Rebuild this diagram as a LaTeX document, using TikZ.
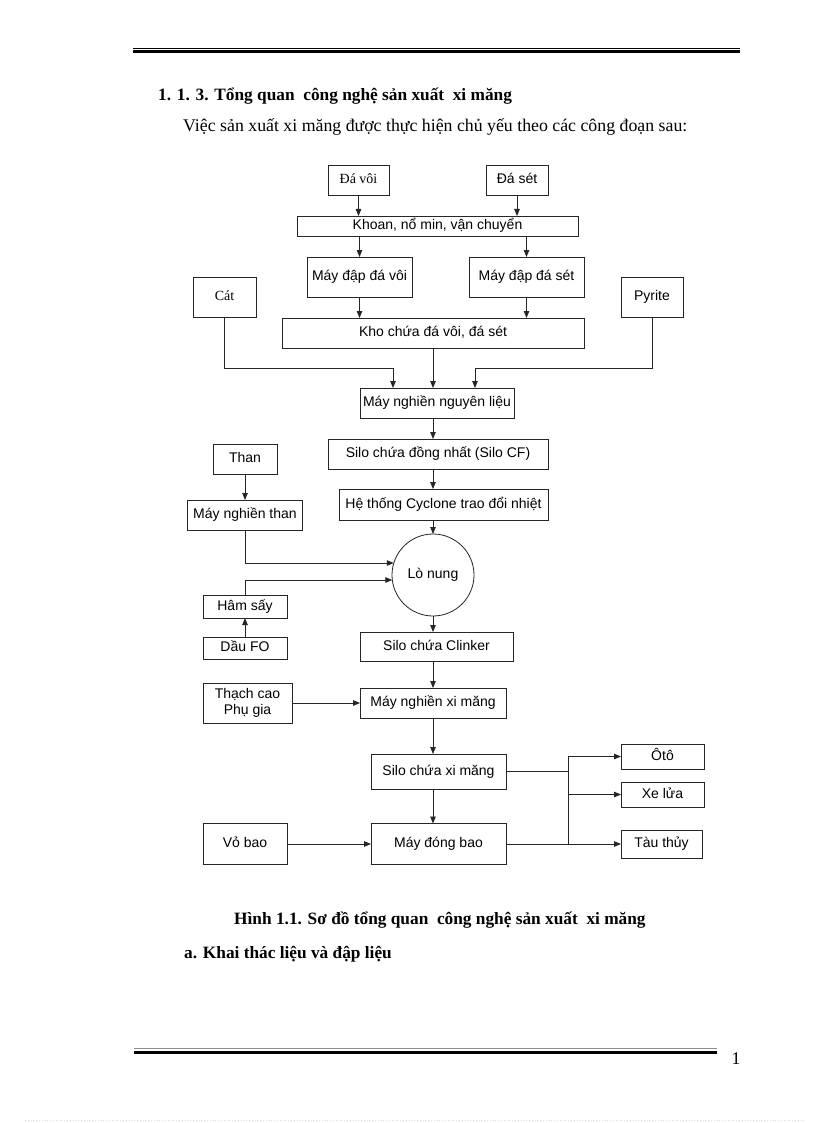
\documentclass[tikz,border=0pt]{standalone}
\usepackage{fontspec}
\setmainfont{Liberation Serif}
\newfontfamily\arialf{Liberation Sans}
\usetikzlibrary{arrows.meta,calc}
\definecolor{dotc}{RGB}{230,215,225}
\begin{document}
\begin{tikzpicture}[x=1pt,y=-1pt,
  bx/.style={draw=black!85, line width=0.8pt, inner sep=0pt, outer sep=0pt, text height=10pt, text depth=2.9pt, font=\arialf\fontsize{14}{16.5}\selectfont},
  sbx/.style={bx, font=\fontsize{14}{16.5}\selectfont},
  arr/.style={draw=black!85, line width=0.8pt, -{Triangle[length=7pt,width=5.5pt]}},
  ln/.style={draw=black!85, line width=0.8pt},
  txt/.style={inner sep=0pt, anchor=base west, font=\fontsize{17.8}{20}\selectfont},
  btxt/.style={txt, font=\fontsize{17.3}{20}\selectfont\bfseries}]
\useasboundingbox (0,0) rectangle (816,1123);
\fill[white] (0,0) rectangle (816,1123);

% page rules
\draw[line width=0.9pt] (133,48.5) -- (740,48.5);
\draw[line width=3.2pt] (133,51.8) -- (740,51.8);
\draw[line width=0.9pt, black!45] (134,1048.8) -- (717,1048.8);
\draw[line width=3.4pt] (134,1052.2) -- (717,1052.2);
\draw[dotted, line width=0.8pt, dotc] (25,1120.5) -- (805,1120.5);

% texts
\node[btxt] (title) at (158,101) {1. 1. 3. Tổng quan~ công nghệ sản xuất~ xi măng};
\node[txt] (intro) at (183,132) {Việc sản xuất xi măng được thực hiện chủ yếu theo các công đoạn sau:};
\node[btxt] (caption) at (234,924) {Hình 1.1. Sơ đồ tổng quan~ công nghệ sản xuất~ xi măng};
\node[btxt] (sect) at (184,958) {a. Khai thác liệu và đập liệu};
\node[txt, anchor=center] (pageno) at (736,1059) {1};

% boxes
\node[sbx, minimum width=61pt, minimum height=30pt] (davoi) at (358.5,180) {Đá vôi};
\node[bx, minimum width=62pt, minimum height=30pt] (daset) at (517,180) {Đá sét};
\node[bx, minimum width=281pt, minimum height=20pt] (khoan) at (437.5,226) {Khoan, nổ min, vận chuyển};
\node[bx, minimum width=105pt, minimum height=40pt] (mdvoi) at (359.5,277) {Máy đập đá vôi};
\node[bx, minimum width=115pt, minimum height=40pt] (mdset) at (526.5,277) {Máy đập đá sét};
\node[sbx, minimum width=63pt, minimum height=40pt] (cat) at (224.5,297) {Cát};
\node[bx, minimum width=62pt, minimum height=40pt] (pyrite) at (652,297) {Pyrite};
\node[bx, minimum width=302pt, minimum height=30pt] (kho) at (433,333) {Kho chứa đá vôi, đá sét};
\node[bx, minimum width=154pt, minimum height=30pt] (mnnl) at (437,403) {Máy nghiền nguyên liệu};
\node[bx, minimum width=220pt, minimum height=30pt] (silocf) at (438,454) {Silo chứa đồng nhất (Silo CF)};
\node[bx, minimum width=209pt, minimum height=31pt] (cyclone) at (443.5,504.5) {Hệ thống Cyclone trao đổi nhiệt};
\node[bx, minimum width=64pt, minimum height=30pt] (than) at (245,459) {Than};
\node[bx, minimum width=115pt, minimum height=30pt] (mnthan) at (245,515) {Máy nghiền than};
\node[bx, circle, minimum size=82pt] (lonung) at (433,575) {Lò nung};
\node[bx, minimum width=84pt, minimum height=23pt] (hamsay) at (245,606.5) {Hâm sấy};
\node[bx, minimum width=84pt, minimum height=22pt] (daufo) at (245,648) {Dầu FO};
\node[bx, minimum width=153pt, minimum height=29pt] (clinker) at (436.5,646.5) {Silo chứa Clinker};
\node[bx, align=center, text height=, text depth=, minimum width=89pt, minimum height=40pt] (thachcao) at (247.5,703) {Thạch cao\\Phụ gia};
\node[bx, minimum width=146pt, minimum height=30pt] (mnxm) at (433,703) {Máy nghiền xi măng};
\node[bx, minimum width=135pt, minimum height=35pt] (siloxm) at (438.5,771.5) {Silo chứa xi măng};
\node[bx, minimum width=135pt, minimum height=41pt] (mdb) at (438.5,844) {Máy đóng bao};
\node[bx, minimum width=84pt, minimum height=41pt] (vobao) at (245,844) {Vỏ bao};
\node[bx, minimum width=83pt, minimum height=25pt] (oto) at (662.5,756.5) {Ôtô};
\node[bx, minimum width=83pt, minimum height=25pt] (xelua) at (662.5,794.5) {Xe lửa};
\node[bx, minimum width=81pt, minimum height=28pt] (tauthuy) at (661.5,844) {Tàu thủy};

% helper coordinates
\coordinate (spine) at (433,0);
\coordinate (lvl) at (0,368);
\coordinate (br) at (568,0);
\coordinate (catin) at ([xshift=-44pt]mnnl.north);
\coordinate (pyin) at ([xshift=38pt]mnnl.north);

% connectors
\draw[arr] (davoi.south) -- (davoi.south |- khoan.north);
\draw[arr] (daset.south) -- (daset.south |- khoan.north);
\draw[arr] (khoan.south -| mdvoi.north) -- (mdvoi.north);
\draw[arr] (khoan.south -| mdset.north) -- (mdset.north);
\draw[arr] (mdvoi.south) -- (mdvoi.south |- kho.north);
\draw[arr] (mdset.south) -- (mdset.south |- kho.north);
\draw[arr] (cat.south) |- (catin |- lvl) -- (catin);
\draw[arr] (pyrite.south) |- (pyin |- lvl) -- (pyin);
\draw[arr] (kho.south -| spine) -- (mnnl.north -| spine);
\draw[arr] (mnnl.south -| spine) -- (silocf.north -| spine);
\draw[arr] (silocf.south -| spine) -- (cyclone.north -| spine);
\draw[arr] (cyclone.south -| spine) -- (lonung.north);
\draw[arr] (lonung.south) -- (clinker.north -| spine);
\draw[arr] (clinker.south -| spine) -- (mnxm.north -| spine);
\draw[arr] (mnxm.south -| spine) -- (siloxm.north -| spine);
\draw[arr] (siloxm.south -| spine) -- (mdb.north -| spine);
\draw[arr] (than.south) -- (mnthan.north);
\draw[arr] (mnthan.south) |- (lonung.163);
\draw[arr] (daufo.north) -- (hamsay.south);
\draw[arr] (hamsay.north) |- (lonung.187);
\draw[arr] (thachcao.east) -- (mnxm.west);
\draw[arr] (vobao.east) -- (mdb.west);
\draw[ln] (siloxm.east) -- (siloxm.east -| br);
\draw[ln] (br |- oto.west) -- (br |- mdb.east);
\draw[arr] (br |- oto.west) -- (oto.west);
\draw[arr] (br |- xelua.west) -- (xelua.west);
\draw[arr] (mdb.east) -- (tauthuy.west);
\end{tikzpicture}
\end{document}
